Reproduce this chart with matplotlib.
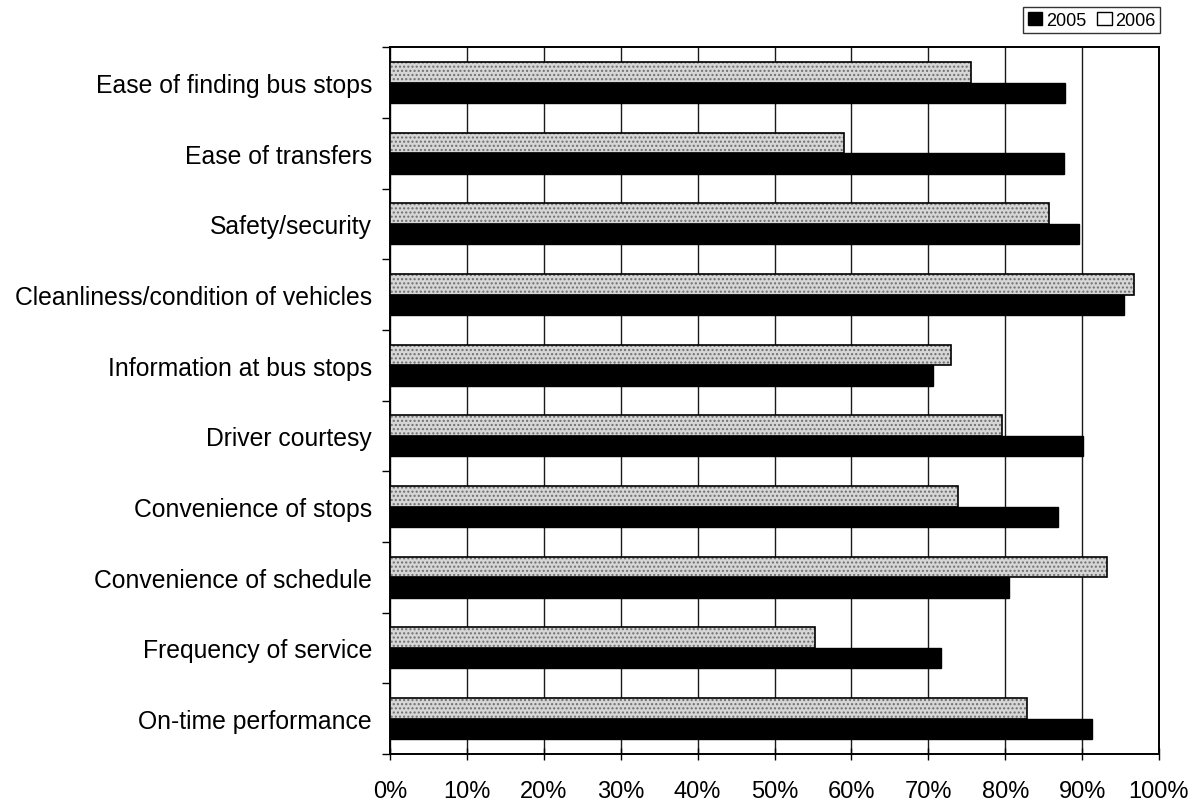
import numpy as np
import matplotlib
matplotlib.use("Agg")
import matplotlib.pyplot as plt
from matplotlib.patches import Patch
from matplotlib.ticker import FixedLocator, PercentFormatter

plt.rcParams['font.family'] = ['Liberation Sans', 'DejaVu Sans']

categories = [
    "Ease of finding bus stops",
    "Ease of transfers",
    "Safety/security",
    "Cleanliness/condition of vehicles",
    "Information at bus stops",
    "Driver courtesy",
    "Convenience of stops",
    "Convenience of schedule",
    "Frequency of service",
    "On-time performance",
]
values_2005 = [87.8, 87.7, 89.6, 95.5, 70.6, 90.1, 86.8, 80.5, 71.7, 91.3]
values_2006 = [75.5, 59.0, 85.7, 96.7, 72.9, 79.6, 73.9, 93.2, 55.3, 82.8]
x_ticks = [0, 10, 20, 30, 40, 50, 60, 70, 80, 90, 100]

fig = plt.figure(figsize=(11.93, 8.04), dpi=100)
ax = fig.add_axes([0.327, 0.061, 0.9715 - 0.327, 0.940 - 0.061])

y = np.arange(len(categories))
h = 0.29

# 2006: stippled light-grey fill with a black outline
ax.barh(y - h / 2, values_2006, height=h, color="#d6d6d6", hatch="....",
        edgecolor="#6e6e6e", linewidth=0, zorder=3)
ax.barh(y - h / 2, values_2006, height=h, fill=False, edgecolor="black",
        linewidth=1.2, zorder=4)
# 2005: solid black
ax.barh(y + h / 2, values_2005, height=h, color="black", edgecolor="black",
        linewidth=1.0, zorder=3)

ax.set_xlim(0, 100)
ax.set_ylim(len(categories) - 0.5, -0.5)

ax.xaxis.set_major_locator(FixedLocator(x_ticks))
ax.xaxis.set_major_formatter(PercentFormatter(decimals=0))
ax.set_yticks(y)
ax.set_yticklabels(categories)
ax.yaxis.set_minor_locator(FixedLocator(np.arange(-0.5, len(categories), 1.0)))

ax.tick_params(axis="y", which="major", length=0, pad=13, labelsize=17.8)
ax.tick_params(axis="y", which="minor", length=6, width=1.0, direction="out")
ax.tick_params(axis="x", which="major", length=8, width=1.0, direction="inout",
               pad=15, labelsize=17)

ax.grid(axis="x", color="#1a1a1a", linewidth=1.0, zorder=1)
ax.set_axisbelow(True)
for s in ax.spines.values():
    s.set_linewidth(1.4)
    s.set_color("black")

handles = [Patch(facecolor="black", edgecolor="black", label="2005"),
           Patch(facecolor="white", edgecolor="black", label="2006")]
leg = fig.legend(handles=handles, ncol=2, loc="upper right",
                 bbox_to_anchor=(1160 / 1193, 1 - 8 / 804), fontsize=13,
                 frameon=True, fancybox=False, edgecolor="black",
                 handlelength=0.8, handleheight=0.8, handletextpad=0.2,
                 columnspacing=0.6, borderpad=0.25, borderaxespad=0)
leg.get_frame().set_linewidth(1.0)

fig.savefig("out.png", dpi=100, facecolor="white")
